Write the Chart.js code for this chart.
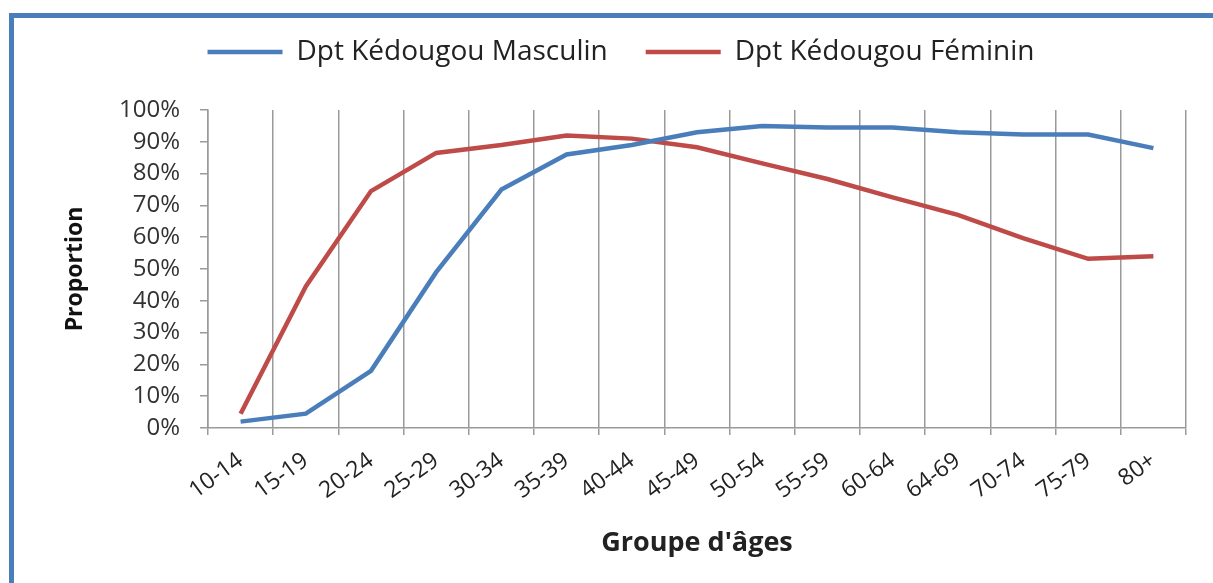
<!DOCTYPE html>
<html>
<head>
<meta charset="utf-8">
<script src="https://cdn.jsdelivr.net/npm/chart.js@4"></script>
<style>
  body { margin: 0; background: #fff; }
  #frame {
    position: absolute; left: 9px; top: 13px; width: 1400px; height: 800px;
    border-left: 5px solid #4a7ebb; border-top: 5px solid #4a7ebb;
  }
  #chart { position: absolute; left: 0; top: 0; }
</style>
</head>
<body>
<div id="frame"></div>
<canvas id="chart" width="1213" height="583"></canvas>
<script>
const ageGroups = ["10-14", "15-19", "20-24", "25-29", "30-34", "35-39", "40-44", "45-49",
  "50-54", "55-59", "60-64", "64-69", "70-74", "75-79", "80+"]
const masculin = [2, 4.5, 18, 49, 75, 86, 89, 93, 95, 94.5, 94.5, 93, 92.3, 92.3, 88]
const feminin = [4.5, 44.5, 74.5, 86.5, 89, 92, 91, 88.3, 83.2, 78.3, 72.5, 67, 59.7, 53.2, 54]

const blue = "#4a7ebb"
const red = "#be4b48"
const gridGrey = "#9a9a9a"
const font = "'Open Sans', 'Liberation Sans', sans-serif"

new Chart("chart", {
  type: "line",
  data: {
    labels: ageGroups,
    datasets: [
      { label: "Dpt Kédougou Masculin", data: masculin, borderColor: blue, backgroundColor: blue,
        borderWidth: 4.5, pointRadius: 0, tension: 0 },
      { label: "Dpt Kédougou Féminin", data: feminin, borderColor: red, backgroundColor: red,
        borderWidth: 4.5, pointRadius: 0, tension: 0 },
    ],
  },
  options: {
    responsive: false,
    animation: false,
    layout: { padding: { top: 0, right: 27, bottom: 0, left: 56 } },
    plugins: {
      tooltip: { enabled: false },
      legend: {
        position: "top",
        labels: {
          usePointStyle: true,
          pointStyle: "line",
          pointStyleWidth: 75,
          padding: 38,
          color: "#222",
          font: { family: font, size: 28 },
        },
      },
      // empty title used as a spacer between legend and plot
      title: {
        display: true,
        text: "",
        weight: 500,
        padding: { top: 0, bottom: 33 },
        font: { size: 1, lineHeight: 1 },
      },
    },
    scales: {
      x: {
        offset: true,
        grid: { offset: true, color: gridGrey, lineWidth: 1.5, tickLength: 7 },
        border: { color: gridGrey, width: 1.5 },
        ticks: {
          autoSkip: false, minRotation: 36, maxRotation: 36, padding: 12,
          color: "#222", font: { family: font, size: 23 },
        },
        title: {
          display: true, text: "Groupe d'âges", color: "#222",
          font: { family: font, size: 27, weight: "bold" },
          padding: { top: 0, bottom: 23 },
        },
        afterFit: s => { s.height = 155 },
      },
      y: {
        min: 0, max: 100,
        grid: { drawOnChartArea: false, color: gridGrey, lineWidth: 1.5, tickLength: 8 },
        border: { color: gridGrey, width: 1.5 },
        ticks: {
          stepSize: 10, padding: 20, color: "#333",
          font: { family: font, size: 24 },
          callback: v => v + "%",
        },
        title: {
          display: true, text: "Proportion", color: "#111",
          font: { family: font, size: 23, weight: "bold" },
          padding: { top: 6, bottom: 0 },
        },
        afterFit: s => { s.width = 152 },
      },
    },
  },
})
</script>
</body>
</html>
